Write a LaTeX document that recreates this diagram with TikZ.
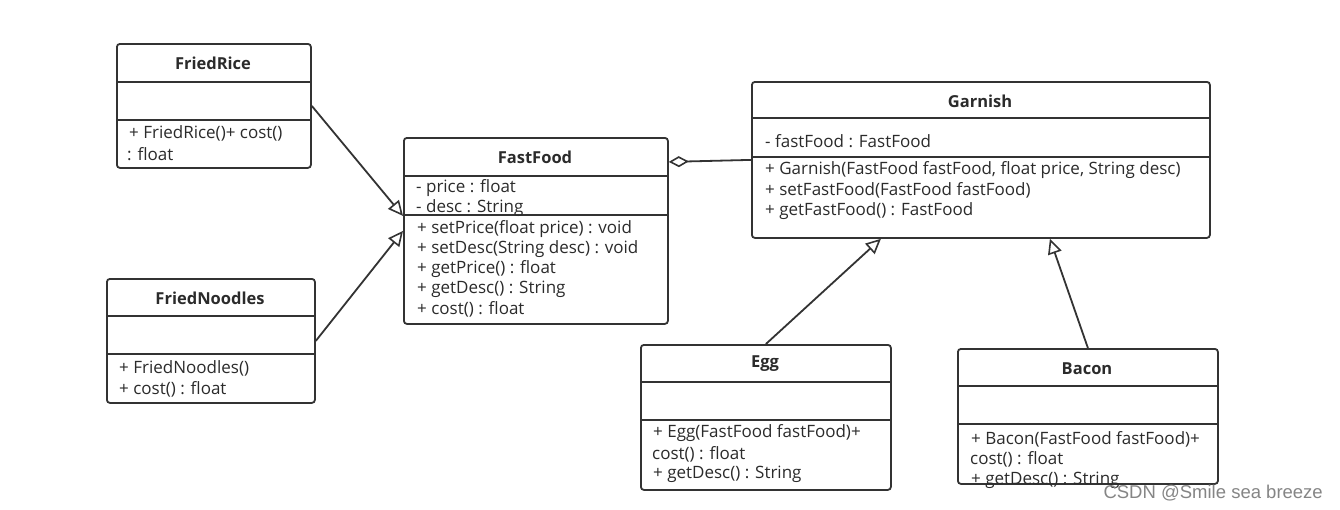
\documentclass[tikz,border=0pt]{standalone}
\usepackage{fontspec}
\setmainfont{Open Sans}
\newfontfamily\wmfont{Liberation Sans}
\usetikzlibrary{arrows.meta}
\definecolor{ln}{HTML}{333333}
\definecolor{tx}{HTML}{2B2B2B}
\tikzset{
  cls/.style={draw=ln, line width=1.8pt, rounded corners=3pt, anchor=north west, inner sep=0pt},
  ttl/.style={font=\bfseries\fontsize{16.5}{19}\selectfont, text=tx, anchor=center, inner sep=0pt},
  mem/.style={font=\fontsize{17}{19}\selectfont, text=tx, anchor=west, inner sep=0pt, yshift=-1.5pt},
  sep/.style={draw=ln, line width=1.8pt},
  gen/.style={draw=ln, line width=1.8pt, -{Triangle[open,length=15pt,width=14pt,line width=1.6pt]}},
  agg/.style={draw=ln, line width=1.8pt, {Diamond[open,length=20pt,width=11pt,line width=1.6pt]}-},
}
\begin{document}
\begin{tikzpicture}[x=1pt,y=-1pt]
\fill[white] (0,0) rectangle (1340,509);
\useasboundingbox (0,0) rectangle (1340,509);

% FriedRice
\node[cls, minimum width=194pt, minimum height=124pt] (fr) at (116,43) {};
\draw[sep] (fr.west |- 0,82) -- (fr.east |- 0,82);
\draw[sep] (fr.west |- 0,120) -- (fr.east |- 0,120);
\node[ttl] (frt) at (213,63) {FriedRice};
\node[mem] (fr1) at (129,132) {+ FriedRice()+ cost()};
\node[mem] (fr2) at (127,153) {: float};

% FriedNoodles
\node[cls, minimum width=208pt, minimum height=124pt] (fn) at (106,278) {};
\draw[sep] (fn.west |- 0,316) -- (fn.east |- 0,316);
\draw[sep] (fn.west |- 0,354) -- (fn.east |- 0,354);
\node[ttl] (fnt) at (210,298) {FriedNoodles};
\node[mem] (fn1) at (119,367) {+ FriedNoodles()};
\node[mem] (fn2) at (119,388) {+ cost() : float};

% FastFood
\node[cls, minimum width=264pt, minimum height=186pt] (ff) at (403,137) {};
\draw[sep] (ff.west |- 0,176) -- (ff.east |- 0,176);
\draw[sep] (ff.west |- 0,215) -- (ff.east |- 0,215);
\node[ttl] (fft) at (535,157) {FastFood};
\node[mem] (ff1) at (416,187) {- price : float};
\node[mem] (ff2) at (416,207) {- desc : String};
\node[mem] (ff3) at (417,228) {+ setPrice(float price) : void};
\node[mem] (ff4) at (417,248) {+ setDesc(String desc) : void};
\node[mem] (ff5) at (417,268) {+ getPrice() : float};
\node[mem] (ff6) at (417,288) {+ getDesc() : String};
\node[mem] (ff7) at (417,308) {+ cost() : float};

% Garnish
\node[cls, minimum width=458pt, minimum height=156pt] (gn) at (751,81) {};
\draw[sep] (gn.west |- 0,118) -- (gn.east |- 0,118);
\draw[sep] (gn.west |- 0,157) -- (gn.east |- 0,157);
\node[ttl] (gnt) at (980,101) {Garnish};
\node[mem] (gn1) at (765,140) {- fastFood : FastFood};
\node[mem] (gn2) at (765,169) {+ Garnish(FastFood fastFood, float price, String desc)};
\node[mem] (gn3) at (765,189) {+ setFastFood(FastFood fastFood)};
\node[mem] (gn4) at (765,210) {+ getFastFood() : FastFood};

% Egg
\node[cls, minimum width=250pt, minimum height=145pt] (egg) at (640,344) {};
\draw[sep] (egg.west |- 0,382) -- (egg.east |- 0,382);
\draw[sep] (egg.west |- 0,420) -- (egg.east |- 0,420);
\node[ttl] (eggt) at (765,364) {Egg};
\node[mem] (egg1) at (653,432) {+ Egg(FastFood fastFood)+};
\node[mem] (egg2) at (652,453) {cost() : float};
\node[mem] (egg3) at (653,473) {+ getDesc() : String};

% Bacon
\node[cls, minimum width=260pt, minimum height=135pt] (bc) at (957,348) {};
\draw[sep] (bc.west |- 0,386) -- (bc.east |- 0,386);
\draw[sep] (bc.west |- 0,424) -- (bc.east |- 0,424);
\node[ttl] (bct) at (1087,369) {Bacon};
\node[mem] (bc1) at (971,438) {+ Bacon(FastFood fastFood)+};
\node[mem] (bc2) at (970,458) {cost() : float};
\node[mem] (bc3) at (971,479) {+ getDesc() : String};

% connectors
\draw[gen] (fr.east) -- ([yshift=15pt]ff.west);
\draw[gen] (fn.east) -- (ff.west);
\draw[agg] ([yshift=69pt]ff.east) -- (gn.west);
\draw[gen] (egg.north) -- ([xshift=-100pt]gn.south);
\draw[gen] (bc.north) -- ([xshift=69pt]gn.south);

% watermark
\node[font=\wmfont\fontsize{18.5}{20}\selectfont, text=black!48, anchor=east, inner sep=0pt] (wm) at (1323,493) {CSDN @Smile sea breeze};
\end{tikzpicture}
\end{document}
